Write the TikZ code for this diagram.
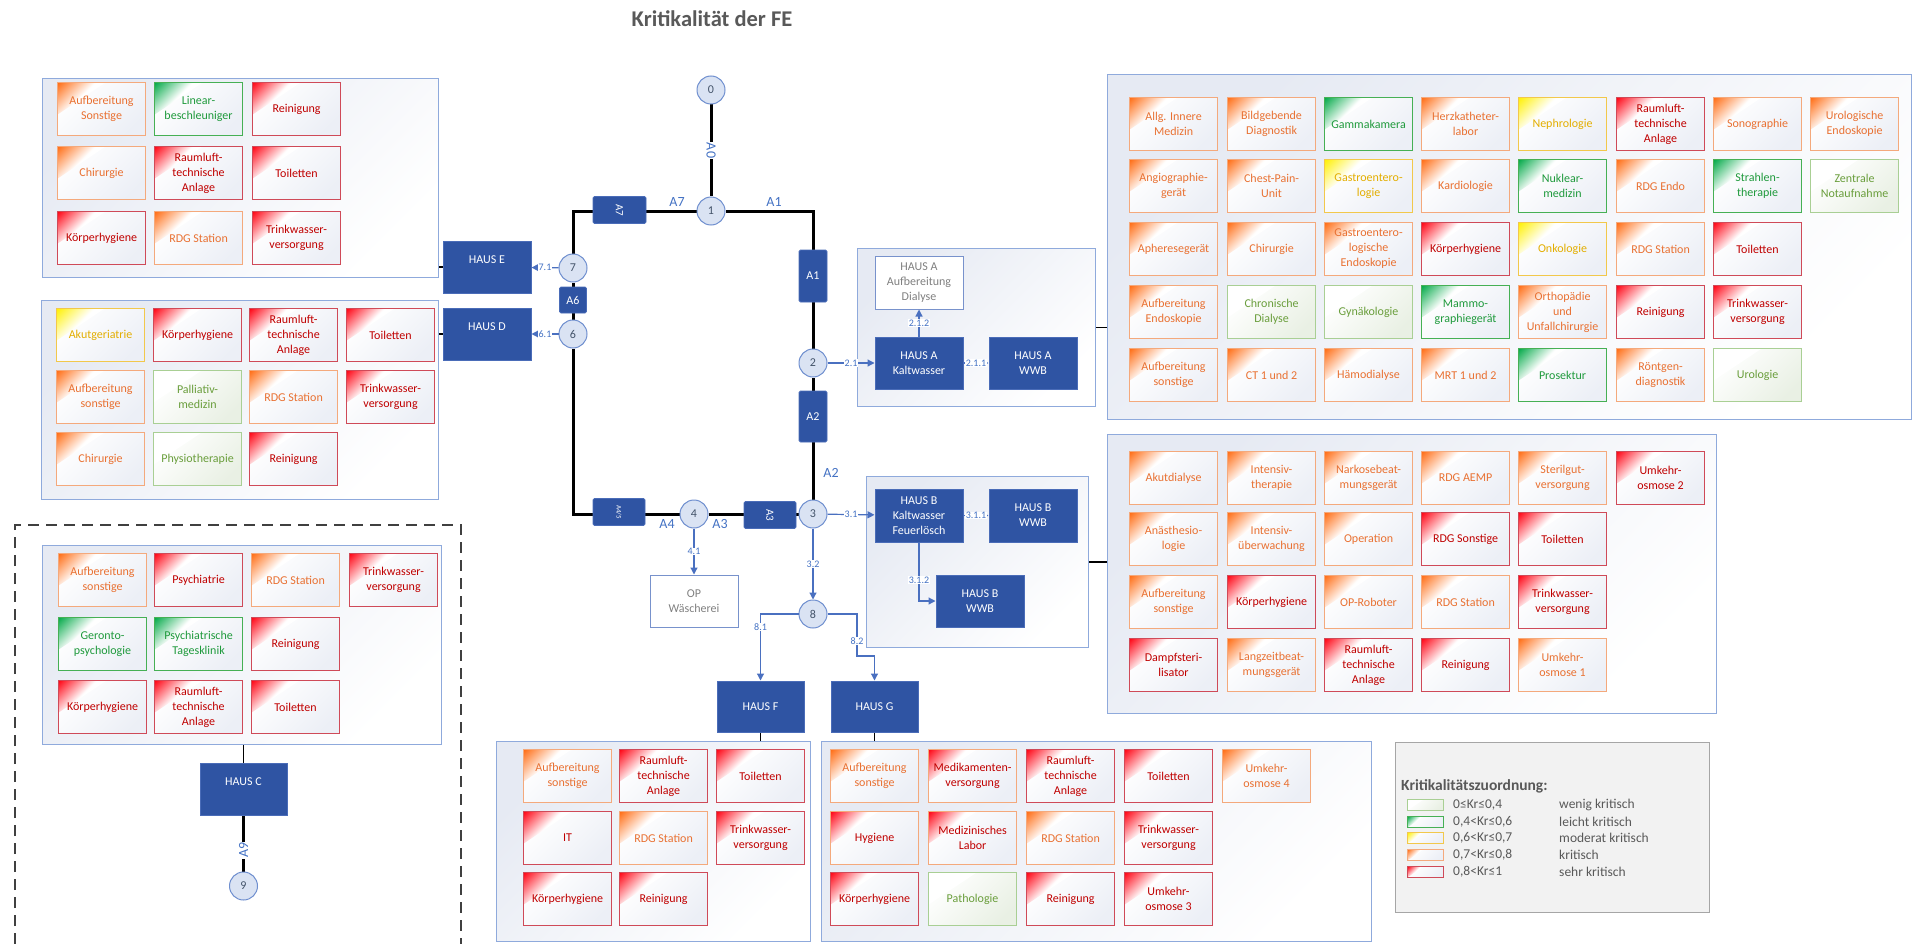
\documentclass[tikz,border=0pt]{standalone}
\usepackage{fontspec}
\setmainfont{Carlito}
\usetikzlibrary{arrows.meta,backgrounds}
\definecolor{hausblue}{HTML}{2F54A3}
\definecolor{hausedge}{HTML}{4A6CB8}
\definecolor{wedge}{HTML}{7892CC}
\definecolor{circfill}{HTML}{DAE3F3}
\definecolor{circedge}{HTML}{6F8FCF}
\definecolor{circtext}{HTML}{44546A}
\definecolor{lblblue}{HTML}{4472C4}
\definecolor{arrblue}{HTML}{4A70C0}
\definecolor{grpedge}{HTML}{8FAADC}
\definecolor{grpbg}{HTML}{E6EAF3}
\definecolor{tilebg}{HTML}{ECEFF6}
\definecolor{tilebgG}{HTML}{E9F0E4}
\definecolor{titlegray}{HTML}{595959}
\definecolor{graytext}{HTML}{808080}
\definecolor{orB}{HTML}{F4A97C}
\definecolor{orC}{HTML}{FF6A10}
\definecolor{orT}{HTML}{E97132}
\definecolor{rdB}{HTML}{CF4A58}
\definecolor{rdC}{HTML}{FF0010}
\definecolor{rdT}{HTML}{C00000}
\definecolor{grB}{HTML}{46B054}
\definecolor{grC}{HTML}{00A846}
\definecolor{grT}{HTML}{1F9A3C}
\definecolor{wgB}{HTML}{A9CF94}
\definecolor{wgT}{HTML}{6A9E3C}
\definecolor{yeB}{HTML}{F2C84B}
\definecolor{yeC}{HTML}{FFF000}
\definecolor{yeT}{HTML}{E3AE00}
\definecolor{legbg}{HTML}{F2F2F2}
\definecolor{legedge}{HTML}{A6A6A6}
\colorlet{cornercol}{white}
\pgfdeclareverticalshading[cornercol]{cornershade}{100bp}{color(0bp)=(white); color(52bp)=(white); color(86bp)=(cornercol); color(100bp)=(cornercol)}
\newcommand\tilefont{\fontsize{12}{15}\selectfont}
\newcommand\tileat[5]{\node[#4] (#1) at (#2,#3) {#5};}
\tikzset{
  corner a/.store in=\cornA, corner b/.store in=\cornB, corner a=48pt, corner b=32pt,
  tilebase/.style={draw, line width=1.1pt, minimum width=88pt, minimum height=53pt,
    inner sep=1pt, align=center, anchor=north west, font=\tilefont},
  cat/.style n args={4}{tilebase, draw=#1, text=#3,
    path picture={
      \shade[left color=white, right color=#4, shading angle=45]
        (path picture bounding box.south west) rectangle (path picture bounding box.north east);
      \colorlet{cornercol}{#2}
      \shade[shading=cornershade, shading angle=45]
        (path picture bounding box.north west) -- ++(\cornA,0pt) -- ++(-\cornA,-\cornB) -- cycle;
    }},
  wenig/.style={cat={wgB}{white}{wgT}{tilebgG}},
  leicht/.style={cat={grB}{grC}{grT}{tilebg}},
  moderat/.style={cat={yeB}{yeC}{yeT}{tilebg}},
  krit/.style={cat={orB}{orC}{orT}{tilebg}},
  sehr/.style={cat={rdB}{rdC}{rdT}{tilebg}},
  sehrO/.style={cat={orB}{rdC}{rdT}{tilebg}},
  grp/.style={anchor=north west, draw=grpedge, line width=1.3pt, inner sep=0pt,
    left color=grpbg, right color=white, shading angle=45},
  haus/.style={fill=hausblue, draw=hausedge, line width=1pt, text=white,
    minimum width=88pt, minimum height=52pt, align=center, inner sep=0pt,
    font=\fontsize{12}{15}\selectfont},
  wbox/.style={fill=white, draw=wedge, line width=1pt, text=graytext,
    minimum width=88pt, minimum height=52pt, align=center, inner sep=0pt,
    font=\fontsize{12}{15}\selectfont},
  ablk/.style={fill=hausblue, draw=hausedge, line width=0.8pt, text=white,
    inner sep=0pt, rounded corners=1.5pt, font=\fontsize{12}{14}\selectfont},
  circ/.style={circle, fill=circfill, draw=circedge, line width=1pt, minimum size=28pt,
    inner sep=0pt, text=circtext, font=\fontsize{12}{14}\selectfont},
  alab/.style={text=lblblue, inner sep=1pt, font=\fontsize{14}{16}\selectfont},
  lbl/.style={fill=white, inner sep=0.6pt, text=lblblue, font=\fontsize{10}{12}\selectfont},
  arr/.style={draw=arrblue, line width=1.2pt, -{Triangle[length=7pt,width=7pt]}},
  ring/.style={draw=black, line width=3pt},
  conn/.style={draw=black, line width=1.6pt},
  legtxt/.style={anchor=west, inner sep=0pt, text=titlegray, font=\fontsize{13.5}{16}\selectfont},
  swatch/.style={anchor=west, minimum width=36pt, minimum height=11pt, corner a=16pt,
    corner b=11pt, line width=1pt, inner sep=0pt},
}
\begin{document}
\begin{tikzpicture}[x=1pt,y=-1pt]
\useasboundingbox (0,0) rectangle (1913,944);
% title
\node[font=\fontsize{22.5}{27}\selectfont\bfseries, text=titlegray] (title) at (712,19) {Kritikalität der FE};

% dashed frame around Haus C
\draw[draw=black!75, line width=2pt, dash pattern=on 11pt off 7pt] (15,944) -- (15,525) -- (461,525) -- (461,944);

% group boxes
\node[grp, minimum width=396pt, minimum height=199pt] (gE) at (42,78) {};
\node[grp, minimum width=397pt, minimum height=199pt] (gD) at (41,300) {};
\node[grp, minimum width=399pt, minimum height=199pt] (gC) at (42,545) {};
\node[grp, minimum width=804pt, minimum height=345pt] (gA) at (1107,74) {};
\node[grp, minimum width=609pt, minimum height=279pt] (gB) at (1107,434) {};
\node[grp, minimum width=314pt, minimum height=200pt] (gF) at (496,741) {};
\node[grp, minimum width=550pt, minimum height=200pt] (gG) at (821,741) {};
\node[grp, minimum width=238pt, minimum height=158pt] (hA) at (857,248) {};
\node[grp, minimum width=222pt, minimum height=171pt] (hB) at (866,476) {};

% Group E
\tileat{e11}{57}{82}{krit}{Aufbereitung\\Sonstige}
\tileat{e12}{154}{82}{leicht}{Linear-\\beschleuniger}
\tileat{e13}{252}{82}{sehr}{Reinigung}
\tileat{e21}{57}{146}{krit}{Chirurgie}
\tileat{e22}{154}{146}{sehr}{Raumluft-\\technische\\Anlage}
\tileat{e23}{252}{146}{sehr}{Toiletten}
\tileat{e31}{57}{211}{sehr}{Körperhygiene}
\tileat{e32}{154}{211}{krit}{RDG Station}
\tileat{e33}{252}{211}{sehr}{Trinkwasser-\\versorgung}

% Group D
\tileat{d11}{56}{308}{moderat}{Akutgeriatrie}
\tileat{d12}{153}{308}{sehr}{Körperhygiene}
\tileat{d13}{249}{308}{sehr}{Raumluft-\\technische\\Anlage}
\tileat{d14}{346}{308}{sehr}{Toiletten}
\tileat{d21}{56}{370}{krit}{Aufbereitung\\sonstige}
\tileat{d22}{153}{370}{wenig}{Palliativ-\\medizin}
\tileat{d23}{249}{370}{krit}{RDG Station}
\tileat{d24}{346}{370}{sehr}{Trinkwasser-\\versorgung}
\tileat{d31}{56}{432}{krit}{Chirurgie}
\tileat{d32}{153}{432}{wenig}{Physiotherapie}
\tileat{d33}{249}{432}{sehr}{Reinigung}

% Group C
\tileat{c11}{58}{553}{krit}{Aufbereitung\\sonstige}
\tileat{c12}{154}{553}{sehr}{Psychiatrie}
\tileat{c13}{251}{553}{krit}{RDG Station}
\tileat{c14}{349}{553}{sehr}{Trinkwasser-\\versorgung}
\tileat{c21}{58}{617}{leicht}{Geronto-\\psychologie}
\tileat{c22}{154}{617}{leicht}{Psychiatrische\\Tagesklinik}
\tileat{c23}{251}{617}{sehr}{Reinigung}
\tileat{c31}{58}{680}{sehr}{Körperhygiene}
\tileat{c32}{154}{680}{sehr}{Raumluft-\\technische\\Anlage}
\tileat{c33}{251}{680}{sehr}{Toiletten}

% Group A
\tileat{a11}{1129}{97}{krit}{Allg. Innere\\Medizin}
\tileat{a12}{1227}{97}{krit}{Bildgebende\\Diagnostik}
\tileat{a13}{1324}{97}{leicht}{Gammakamera}
\tileat{a14}{1421}{97}{krit}{Herzkatheter-\\labor}
\tileat{a15}{1518}{97}{moderat}{Nephrologie}
\tileat{a16}{1616}{97}{sehr}{Raumluft-\\technische\\Anlage}
\tileat{a17}{1713}{97}{krit}{Sonographie}
\tileat{a18}{1810}{97}{krit}{Urologische\\Endoskopie}
\tileat{a21}{1129}{159}{krit}{Angiographie-\\gerät}
\tileat{a22}{1227}{159}{krit}{Chest-Pain-\\Unit}
\tileat{a23}{1324}{159}{moderat}{Gastroentero-\\logie}
\tileat{a24}{1421}{159}{krit}{Kardiologie}
\tileat{a25}{1518}{159}{leicht}{Nuklear-\\medizin}
\tileat{a26}{1616}{159}{krit}{RDG Endo}
\tileat{a27}{1713}{159}{leicht}{Strahlen-\\therapie}
\tileat{a28}{1810}{159}{wenig}{Zentrale\\Notaufnahme}
\tileat{a31}{1129}{222}{krit}{Apheresegerät}
\tileat{a32}{1227}{222}{krit}{Chirurgie}
\tileat{a33}{1324}{222}{krit}{Gastroentero-\\logische\\Endoskopie}
\tileat{a34}{1421}{222}{sehr}{Körperhygiene}
\tileat{a35}{1518}{222}{moderat}{Onkologie}
\tileat{a36}{1616}{222}{krit}{RDG Station}
\tileat{a37}{1713}{222}{sehr}{Toiletten}
\tileat{a41}{1129}{285}{krit}{Aufbereitung\\Endoskopie}
\tileat{a42}{1227}{285}{wenig}{Chronische\\Dialyse}
\tileat{a43}{1324}{285}{wenig}{Gynäkologie}
\tileat{a44}{1421}{285}{leicht}{Mammo-\\graphiegerät}
\tileat{a45}{1518}{285}{krit}{Orthopädie\\und\\Unfallchirurgie}
\tileat{a46}{1616}{285}{sehr}{Reinigung}
\tileat{a47}{1713}{285}{sehr}{Trinkwasser-\\versorgung}
\tileat{a51}{1129}{348}{krit}{Aufbereitung\\sonstige}
\tileat{a52}{1227}{348}{krit}{CT 1 und 2}
\tileat{a53}{1324}{348}{krit}{Hämodialyse}
\tileat{a54}{1421}{348}{krit}{MRT 1 und 2}
\tileat{a55}{1518}{348}{leicht}{Prosektur}
\tileat{a56}{1616}{348}{krit}{Röntgen-\\diagnostik}
\tileat{a57}{1713}{348}{wenig}{Urologie}

% Group B
\tileat{b11}{1129}{451}{krit}{Akutdialyse}
\tileat{b12}{1227}{451}{krit}{Intensiv-\\therapie}
\tileat{b13}{1324}{451}{krit}{Narkosebeat-\\mungsgerät}
\tileat{b14}{1421}{451}{krit}{RDG AEMP}
\tileat{b15}{1518}{451}{krit}{Sterilgut-\\versorgung}
\tileat{b16}{1616}{451}{sehr}{Umkehr-\\osmose 2}
\tileat{b21}{1129}{512}{krit}{Anästhesio-\\logie}
\tileat{b22}{1227}{512}{krit}{Intensiv-\\überwachung}
\tileat{b23}{1324}{512}{krit}{Operation}
\tileat{b24}{1421}{512}{sehr}{RDG Sonstige}
\tileat{b25}{1518}{512}{sehr}{Toiletten}
\tileat{b31}{1129}{575}{krit}{Aufbereitung\\sonstige}
\tileat{b32}{1227}{575}{sehr}{Körperhygiene}
\tileat{b33}{1324}{575}{krit}{OP-Roboter}
\tileat{b34}{1421}{575}{krit}{RDG Station}
\tileat{b35}{1518}{575}{sehr}{Trinkwasser-\\versorgung}
\tileat{b41}{1129}{638}{sehr}{Dampfsteri-\\lisator}
\tileat{b42}{1227}{638}{krit}{Langzeitbeat-\\mungsgerät}
\tileat{b43}{1324}{638}{sehr}{Raumluft-\\technische\\Anlage}
\tileat{b44}{1421}{638}{sehr}{Reinigung}
\tileat{b45}{1518}{638}{krit}{Umkehr-\\osmose 1}

% Group F
\tileat{f11}{523}{749}{krit}{Aufbereitung\\sonstige}
\tileat{f12}{619}{749}{sehr}{Raumluft-\\technische\\Anlage}
\tileat{f13}{716}{749}{sehr}{Toiletten}
\tileat{f21}{523}{811}{sehr}{IT}
\tileat{f22}{619}{811}{krit}{RDG Station}
\tileat{f23}{716}{811}{sehr}{Trinkwasser-\\versorgung}
\tileat{f31}{523}{872}{sehr}{Körperhygiene}
\tileat{f32}{619}{872}{sehr}{Reinigung}

% Group G
\tileat{g11}{830}{749}{krit}{Aufbereitung\\sonstige}
\tileat{g12}{928}{749}{sehrO}{Medikamenten-\\versorgung}
\tileat{g13}{1026}{749}{sehr}{Raumluft-\\technische\\Anlage}
\tileat{g14}{1124}{749}{sehr}{Toiletten}
\tileat{g15}{1222}{749}{krit}{Umkehr-\\osmose 4}
\tileat{g21}{830}{811}{sehrO}{Hygiene}
\tileat{g22}{928}{811}{sehrO}{Medizinisches\\Labor}
\tileat{g23}{1026}{811}{krit}{RDG Station}
\tileat{g24}{1124}{811}{sehr}{Trinkwasser-\\versorgung}
\tileat{g31}{830}{872}{sehr}{Körperhygiene}
\tileat{g32}{928}{872}{wenig}{Pathologie}
\tileat{g33}{1026}{872}{sehr}{Reinigung}
\tileat{g34}{1124}{872}{sehr}{Umkehr-\\osmose 3}

% HAUS boxes
\node[haus] (hausE) at (487,267) {HAUS E\\ \mbox{}};
\node[haus] (hausD) at (487,334) {HAUS D\\ \mbox{}};
\node[haus, minimum width=87pt] (hausC) at (243.5,789) {HAUS C\\ \mbox{}};
\node[haus, minimum width=87pt, minimum height=51pt] (hausF) at (760.5,706.5) {HAUS F};
\node[haus, minimum width=87pt, minimum height=51pt] (hausG) at (874.5,706.5) {HAUS G};
\node[wbox, minimum height=53pt] (hAD) at (919,282.5) {HAUS A\\Aufbereitung\\Dialyse};
\node[haus] (hAK) at (919,363) {HAUS A\\Kaltwasser};
\node[haus] (hAW) at (1033,363) {HAUS A\\WWB};
\node[haus, minimum height=53pt] (hBK) at (919,515.5) {HAUS B\\Kaltwasser\\Feuerlösch};
\node[haus, minimum height=53pt] (hBW) at (1033,515.5) {HAUS B\\WWB};
\node[haus] (hBW2) at (980,601) {HAUS B\\WWB};
\node[wbox] (opW) at (694,601) {OP\\Wäscherei};

% A blocks
\node[ablk, minimum width=53pt, minimum height=27pt] (bA7) at (619.5,210) {\rotatebox{-90}{\fontsize{11}{12}\selectfont A7}};
\node[ablk, minimum width=28pt, minimum height=52pt] (bA1) at (813,276) {A1};
\node[ablk, minimum width=28pt, minimum height=51pt] (bA2) at (813,416.5) {A2};
\node[ablk, minimum width=27pt, minimum height=26pt] (bA6) at (573,300) {A6};
\node[ablk, minimum width=52pt, minimum height=27pt] (bA3) at (770,515) {\rotatebox{-90}{\fontsize{11}{12}\selectfont A3}};
\node[ablk, minimum width=52pt, minimum height=27pt] (bA45) at (619,512) {\rotatebox{-90}{\fontsize{7}{8}\selectfont A4/5}};

% junction circles
\node[circ] (n0) at (711,90) {0};
\node[circ] (n1) at (711,211) {1};
\node[circ] (n2) at (813,363) {2};
\node[circ] (n3) at (813,514) {3};
\node[circ] (n4) at (694,514) {4};
\node[circ] (n6) at (573,334) {6};
\node[circ] (n7) at (573,268) {7};
\node[circ] (n8) at (813,614) {8};
\node[circ] (n9) at (243.5,886) {9};
\coordinate (cTL) at (573,211);
\coordinate (cTR) at (813,211);
\coordinate (cBL) at (573,514);
\coordinate (k82) at (857,656);

% ring labels
\node[alab] (lA7) at (677,202) {A7};
\node[alab] (lA1) at (774,202) {A1};
\node[alab] (lA2) at (831,473) {A2};
\node[alab] (lA4) at (667,524) {A4};
\node[alab] (lA3) at (720,524) {A3};

% thick ring lines (behind)
\begin{pgfonlayer}{background}
\fill[white] (0,0) rectangle (1913,944);
\draw[ring] (n0) -- node[alab, fill=white, rotate=-90] (lA0) {A0} (n1);
\draw[ring] (n1) -- (cTL) -- (n7);
\draw[ring] (n7) -- (n6);
\draw[ring] (n6) -- (cBL) -- (n4);
\draw[ring] (n4) -- (n3);
\draw[ring] (n3) -- (n2);
\draw[ring] (n2) -- (cTR) -- (n1);
\draw[ring] (hausC) -- node[pos=0.62, alab, fill=white, rotate=90] (lA9) {A9} (n9);
\end{pgfonlayer}

% connectors to groups
\draw[conn] (hausE.west) -- (hausE.west -| gE.east);
\draw[conn] (hausD.west) -- (hausD.west -| gD.east);
\draw[conn] (hausC.north) -- (hausC.north |- gC.south);
\draw[conn] (hausF.south) -- (hausF.south |- gF.north);
\draw[conn] (hausG.south) -- (hausG.south |- gG.north);
\draw[conn] (hA.east) -- (hA.east -| gA.west);
\draw[conn] (hB.east) -- (hB.east -| gB.west);

% blue arrows
\draw[arr] (n7) -- node[lbl] (l71) {7.1} (hausE);
\draw[arr] (n6) -- node[lbl] (l61) {6.1} (hausD);
\draw[arr] (n2) -- node[lbl] (l21) {2.1} (hAK);
\draw[arr] (hAK) -- node[lbl] (l211) {2.1.1} (hAW);
\draw[arr] (hAK) -- node[lbl] (l212) {2.1.2} (hAD);
\draw[arr] (n3) -- node[lbl] (l31) {3.1} (hBK);
\draw[arr] (hBK) -- node[lbl] (l311) {3.1.1} (hBW);
\draw[arr] (hBK.south) |- node[lbl, pos=0.32] (l312) {3.1.2} (hBW2.west);
\draw[arr] (n4) -- node[lbl] (l41) {4.1} (opW);
\draw[arr] (n3) -- node[lbl] (l32) {3.2} (n8);
\draw[arr] (n8.west) -| node[lbl, pos=0.6] (l81) {8.1} (hausF.north);
\draw[arr] (n8.east) -| (k82) -| (hausG.north);
\node[lbl] (l82) at (857,641) {8.2};

% legend
\node[anchor=north west, fill=legbg, draw=legedge, line width=1.3pt, minimum width=314pt, minimum height=170pt] (leg) at (1395,742) {};
\node[anchor=west, inner sep=0pt, text=titlegray, font=\fontsize{15.5}{18}\selectfont\bfseries] (legT) at (1401,786) {Kritikalitätszuordnung:};
\node[wenig, swatch] (sw1) at (1407,805) {};
\node[leicht, swatch] (sw2) at (1407,822) {};
\node[moderat, swatch] (sw3) at (1407,838) {};
\node[krit, swatch] (sw4) at (1407,855) {};
\node[sehr, swatch] (sw5) at (1407,872) {};
\node[legtxt] (lt1) at (1453,805) {0≤Kr≤0,4};
\node[legtxt] (lt2) at (1453,822) {0,4<Kr≤0,6};
\node[legtxt] (lt3) at (1453,838) {0,6<Kr≤0,7};
\node[legtxt] (lt4) at (1453,855) {0,7<Kr≤0,8};
\node[legtxt] (lt5) at (1453,872) {0,8<Kr≤1};
\node[legtxt] (ld1) at (1559,805) {wenig kritisch};
\node[legtxt] (ld2) at (1559,822) {leicht kritisch};
\node[legtxt] (ld3) at (1559,838) {moderat kritisch};
\node[legtxt] (ld4) at (1559,855) {kritisch};
\node[legtxt] (ld5) at (1559,872) {sehr kritisch};
\end{tikzpicture}
\end{document}
